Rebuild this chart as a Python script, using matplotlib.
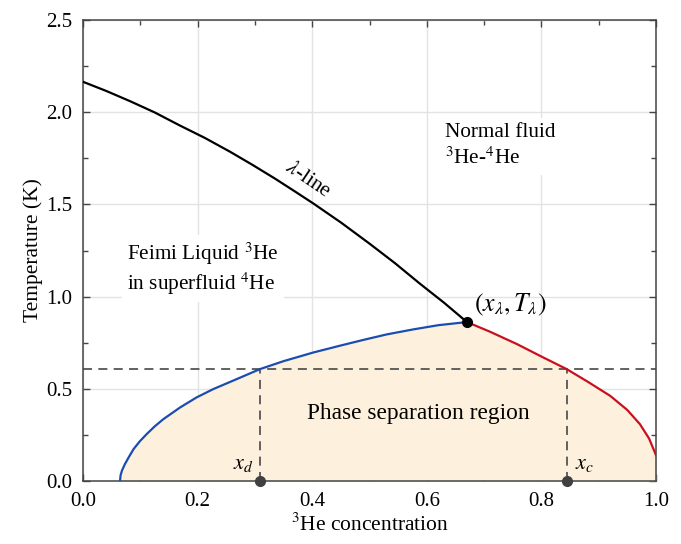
import numpy as np
import matplotlib
matplotlib.use("Agg")
import matplotlib.pyplot as plt
from matplotlib.ticker import MultipleLocator

plt.rcParams['font.family'] = ['Liberation Serif', 'DejaVu Serif']
plt.rcParams['mathtext.fontset'] = 'stix'

# lambda line (superfluid transition)
lam_x = [0.0, 0.040, 0.082, 0.125, 0.169, 0.213, 0.257, 0.296, 0.335, 0.368,
         0.402, 0.451, 0.501, 0.545, 0.588, 0.630, 0.670]
lam_T = [2.165, 2.116, 2.060, 1.999, 1.928, 1.860, 1.785, 1.714, 1.640, 1.574,
         1.505, 1.400, 1.285, 1.180, 1.070, 0.967, 0.862]

# dilute side of the coexistence curve
dil_x = [0.0646, 0.0655, 0.068, 0.073, 0.080, 0.088, 0.099, 0.111, 0.125, 0.140,
         0.169, 0.198, 0.227, 0.27, 0.309, 0.35, 0.402, 0.45, 0.489, 0.53,
         0.576, 0.62, 0.670]
dil_T = [0.0, 0.03, 0.057, 0.091, 0.13, 0.172, 0.215, 0.254, 0.296, 0.335,
         0.398, 0.453, 0.498, 0.555, 0.607, 0.65, 0.697, 0.735, 0.765, 0.795,
         0.822, 0.845, 0.862]

# concentrated side of the coexistence curve
con_x = [0.670, 0.71, 0.757, 0.80, 0.844, 0.88, 0.92, 0.95, 0.972, 0.988, 1.0]
con_T = [0.862, 0.81, 0.743, 0.675, 0.607, 0.54, 0.462, 0.385, 0.308, 0.23, 0.14]

x_lambda, T_lambda = 0.670, 0.862
T_op = 0.61
x_d, x_c = 0.309, 0.844

fig = plt.figure(figsize=(6.81, 5.44), dpi=100)
ax = fig.add_axes([0.1219, 0.1158, 0.8414, 0.8474])

# shaded two-phase region under the coexistence curve
fill_x = np.concatenate([dil_x, con_x[1:]])
fill_T = np.concatenate([dil_T, con_T[1:]])
ax.fill_between(fill_x, 0, fill_T, color='#fdf1de', lw=0, zorder=1)

ax.plot(lam_x, lam_T, color='black', lw=1.6, zorder=3)
ax.plot(dil_x, dil_T, color='#1a4db0', lw=1.6, zorder=3)
ax.plot(con_x, con_T, color='#c8101e', lw=1.6, zorder=3)

# operating temperature and the two phase concentrations
dash_c = '#555555'
ax.axhline(T_op, color=dash_c, lw=1.3, ls=(0, (5, 3.5)), zorder=2)
ax.plot([x_d, x_d], [0, T_op], color=dash_c, lw=1.3, ls=(0, (5, 3.5)), zorder=2)
ax.plot([x_c, x_c], [0, T_op], color=dash_c, lw=1.3, ls=(0, (5, 3.5)), zorder=2)
ax.plot([x_d, x_c], [0, 0], 'o', color='#404040', ms=7, clip_on=False, zorder=5)
ax.plot([x_lambda], [T_lambda], 'o', color='black', ms=7, zorder=5)

ax.text(0.392, 1.635, r'$\lambda$-line', rotation=-34, fontsize=15.5,
        ha='center', va='center', zorder=4)
ax.text(x_lambda + 0.012, T_lambda + 0.02, r'$(x_\lambda,T_\lambda)$', fontsize=18.5,
        ha='left', va='bottom', zorder=4)
ax.text(x_d - 0.012, 0.04, r'$x_d$', fontsize=16, ha='right', va='bottom', zorder=4)
ax.text(x_c + 0.015, 0.04, r'$x_c$', fontsize=16, ha='left', va='bottom', zorder=4)
ax.text(0.585, 0.365, 'Phase separation region', fontsize=16.8, ha='center', va='center', zorder=4)

box = dict(facecolor='white', edgecolor='none', pad=4)
ax.text(0.077, 1.152, 'Feimi Liquid $^3$He\nin superfluid $^4$He', fontsize=15.3,
        ha='left', va='center', linespacing=1.15, bbox=box, zorder=4)
ax.text(0.632, 1.815, 'Normal fluid\n$^3$He-$^4$He', fontsize=15.3,
        ha='left', va='center', linespacing=1.3, bbox=box, zorder=4)

ax.set_xlim(0, 1.0)
ax.set_ylim(0, 2.5)
ax.xaxis.set_major_locator(MultipleLocator(0.2))
ax.xaxis.set_minor_locator(MultipleLocator(0.1))
ax.yaxis.set_major_locator(MultipleLocator(0.5))
ax.yaxis.set_minor_locator(MultipleLocator(0.25))
ax.xaxis.set_major_formatter(lambda v, p: f'{v:.1f}')
ax.yaxis.set_major_formatter(lambda v, p: f'{v:.1f}')
ax.grid(True, which='major', color='#e3e3e3', lw=1.0, zorder=0)
ax.set_axisbelow(True)
ax.tick_params(which='both', direction='in', top=True, right=True,
               color='#444444', labelsize=15)
ax.tick_params(axis='x', which='major', pad=8)
ax.tick_params(axis='y', which='major', pad=8)
ax.tick_params(which='major', length=5, width=1)
ax.tick_params(which='minor', length=3.5, width=1)
for s in ax.spines.values():
    s.set_color('#444444')
    s.set_linewidth(1.1)

ax.set_xlabel('$^3$He concentration', fontsize=15.5, labelpad=2)
ax.set_ylabel('Temperature (K)', fontsize=15.5, labelpad=2)

fig.savefig('out.png', dpi=100)
